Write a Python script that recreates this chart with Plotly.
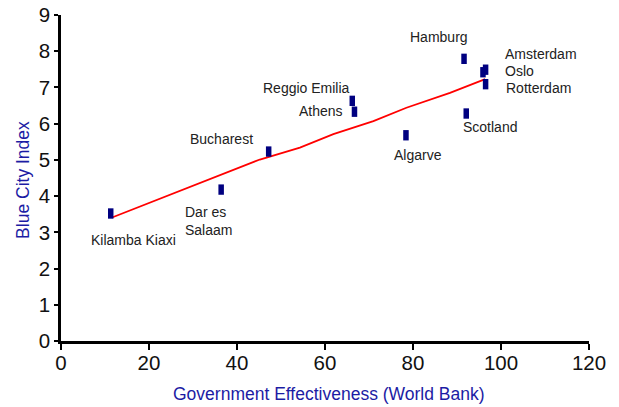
import plotly.graph_objects as go

# Data
cities = ["Kilamba Kiaxi", "Dar es<br>Salaam", "Bucharest", "Reggio Emilia", "Athens",
          "Algarve", "Hamburg", "Scotland", "Oslo", "Amsterdam", "Rotterdam"]
gov_effectiveness = [11.3, 36.4, 47.2, 66.2, 66.7, 78.4, 91.6, 92.1, 95.9, 96.5, 96.5]
blue_city_index = [3.52, 4.18, 5.23, 6.63, 6.33, 5.68, 7.79, 6.28, 7.42, 7.49, 7.09]

trend_x = [11.6, 31.6, 45.2, 54.3, 61.9, 71.0, 78.5, 88.4, 96.4]
trend_y = [3.41, 4.35, 5.01, 5.34, 5.71, 6.07, 6.44, 6.85, 7.23]

x_ticks = [0, 20, 40, 60, 80, 100, 120]
y_ticks = [0, 1, 2, 3, 4, 5, 6, 7, 8, 9]

# label placement (pixel offsets from each point): xanchor, xshift, yshift
label_place = {
    "Kilamba Kiaxi": ("center", 22.7, -26.7),
    "Dar es<br>Salaam": ("left", -36, -31.5),
    "Bucharest": ("right", -16, 12.6),
    "Reggio Emilia": ("right", -2, 13),
    "Athens": ("right", -11, 1),
    "Algarve": ("center", 12, -20),
    "Hamburg": ("center", -25, 22),
    "Scotland": ("left", -3.6, -13.4),
    "Oslo": ("left", 22.3, 1.3),
    "Amsterdam": ("left", 19.6, 16),
    "Rotterdam": ("left", 20, -3.7),
}

FONT = "Liberation Sans, Arial, Helvetica, sans-serif"
TITLE_BLUE = "#1c1ca4"
NAVY = "#000080"

fig = go.Figure()
fig.add_trace(go.Scatter(
    x=trend_x, y=trend_y, mode="lines",
    line=dict(color="#ff0000", width=1.8),
    hoverinfo="skip", showlegend=False,
))
fig.add_trace(go.Scatter(
    x=gov_effectiveness, y=blue_city_index, mode="markers",
    marker=dict(symbol="line-ns", size=7.4, color=NAVY,
                line=dict(color=NAVY, width=5.5)),
    text=cities, showlegend=False,
))

annotations = []
for name, gx, by in zip(cities, gov_effectiveness, blue_city_index):
    anchor, xs, ys = label_place[name]
    annotations.append(dict(
        x=gx, y=by, xref="x", yref="y", text=name, showarrow=False,
        xanchor=anchor, yanchor="middle", xshift=xs, yshift=ys,
        align="left", borderpad=0, borderwidth=0,
        font=dict(family=FONT, size=14, color="#222222"),
    ))

annotations.append(dict(
    x=0.5, y=0, xref="paper", yref="paper", xanchor="center", yanchor="middle",
    xshift=3.8, yshift=-52.6, showarrow=False,
    text="Government Effectiveness (World Bank)",
    font=dict(family=FONT, size=17.5, color=TITLE_BLUE),
))
annotations.append(dict(
    x=0, y=0.5, xref="paper", yref="paper", xanchor="center", yanchor="middle",
    xshift=-37.4, yshift=-2.3, showarrow=False, textangle=-90,
    text="Blue City Index",
    font=dict(family=FONT, size=17.5, color=TITLE_BLUE),
))

fig.update_layout(
    width=619, height=407,
    margin=dict(l=61, r=30, t=15, b=66, pad=0, autoexpand=False),
    paper_bgcolor="white", plot_bgcolor="white",
    font=dict(family=FONT, color="#111111"),
    annotations=annotations,
    xaxis=dict(
        range=[0, 120], tickvals=x_ticks, ticktext=[str(v) for v in x_ticks],
        showgrid=False, zeroline=False, showline=True, linecolor="black", linewidth=2.5,
        ticks="outside", ticklen=6, tickwidth=2, tickcolor="black", automargin=False,
        ticklabelstandoff=-4,
        tickfont=dict(family=FONT, size=20.5, color="#111111"),
    ),
    yaxis=dict(
        range=[0, 9], tickvals=y_ticks, ticktext=[str(v) for v in y_ticks],
        showgrid=False, zeroline=False, showline=True, linecolor="black", linewidth=2.5,
        ticks="outside", ticklen=4, tickwidth=2, tickcolor="black", automargin=False,
        tickfont=dict(family=FONT, size=20.5, color="#111111"),
    ),
)

fig.write_html(
    "out.html",
    config={"displayModeBar": False},
    post_script="document.body.style.margin='0px';document.body.style.overflow='hidden';",
)
